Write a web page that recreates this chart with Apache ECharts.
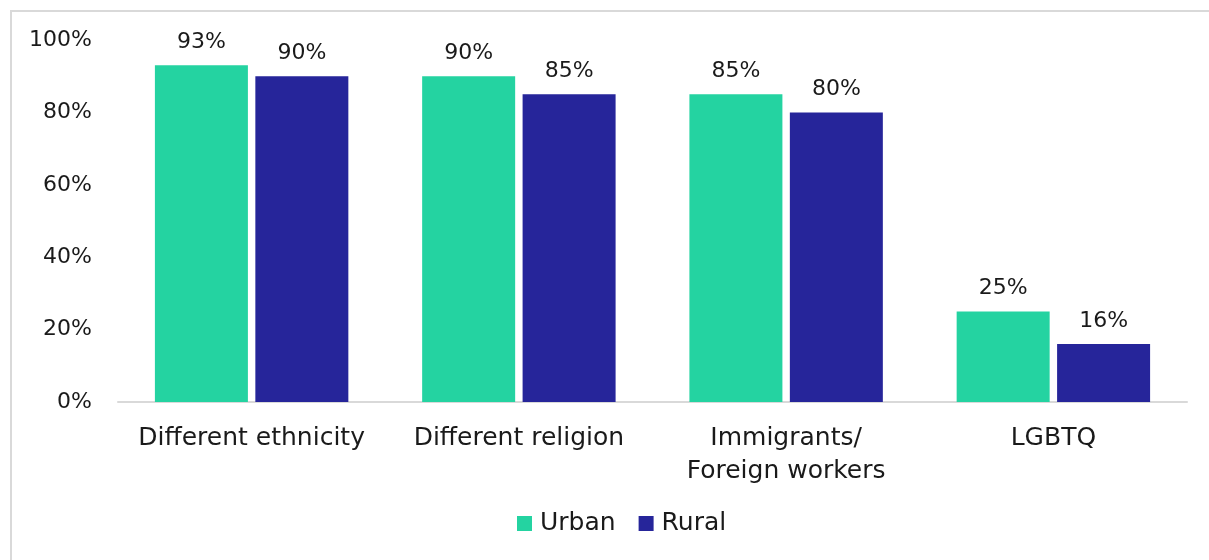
<!DOCTYPE html>
<html>
<head>
<meta charset="utf-8">
<script src="https://cdn.jsdelivr.net/npm/echarts@6/dist/echarts.min.js"></script>
<style>
  html, body { margin: 0; padding: 0; background: #ffffff; overflow: hidden; }
  #frame {
    position: absolute; left: 10px; top: 10px; width: 2000px; height: 1000px;
    border-left: 2px solid #d9d9d9; border-top: 2px solid #d9d9d9;
  }
  #chart { position: absolute; left: 0; top: 0; width: 1209px; height: 560px; }
</style>
</head>
<body>
<div id="frame"></div>
<div id="chart"></div>
<script>
// Share of respondents accepting each group as neighbours, by area
const categories = ['Different ethnicity', 'Different religion', 'Immigrants/\nForeign workers', 'LGBTQ'];
const urbanValues = [93, 90, 85, 25];
const ruralValues = [90, 85, 80, 16];
const yTicks = [0, 20, 40, 60, 80, 100];

const FONT = 'DejaVu Sans';
const TEXT = '#1a1a1a';

const chart = echarts.init(document.getElementById('chart'));

const barLabel = {
  show: true,
  position: 'top',
  distance: 12,
  formatter: p => p.value + '%',
  fontFamily: FONT,
  fontSize: 22,
  color: TEXT
};

chart.setOption({
  animation: false,
  textStyle: { fontFamily: FONT },
  grid: { left: 118, right: 22, top: 40, bottom: 158 },
  legend: {
    data: ['Urban', 'Rural'],
    bottom: 19,
    left: 512,
    icon: 'rect',
    itemWidth: 15,
    itemHeight: 15,
    itemGap: 23,
    textStyle: { fontFamily: FONT, fontSize: 25, color: TEXT, padding: [0, 0, 0, 3] }
  },
  xAxis: {
    type: 'category',
    data: categories,
    axisLine: { lineStyle: { color: '#d9d9d9', width: 2 } },
    axisTick: { show: false },
    axisLabel: {
      fontFamily: FONT, fontSize: 25, color: TEXT,
      margin: 20, lineHeight: 33, interval: 0
    }
  },
  yAxis: {
    type: 'value',
    min: yTicks[0],
    max: yTicks[yTicks.length - 1],
    interval: yTicks[1] - yTicks[0],
    axisLine: { show: false },
    axisTick: { show: false },
    splitLine: { show: false },
    axisLabel: {
      formatter: v => v + '%',
      fontFamily: FONT, fontSize: 22, color: TEXT, margin: 26
    }
  },
  series: [
    {
      name: 'Urban', type: 'bar', data: urbanValues,
      barWidth: 93, barGap: '8%',
      itemStyle: { color: '#24d3a1' },
      label: barLabel
    },
    {
      name: 'Rural', type: 'bar', data: ruralValues,
      barWidth: 93,
      itemStyle: { color: '#26259a' },
      label: barLabel
    }
  ]
});
</script>
</body>
</html>
